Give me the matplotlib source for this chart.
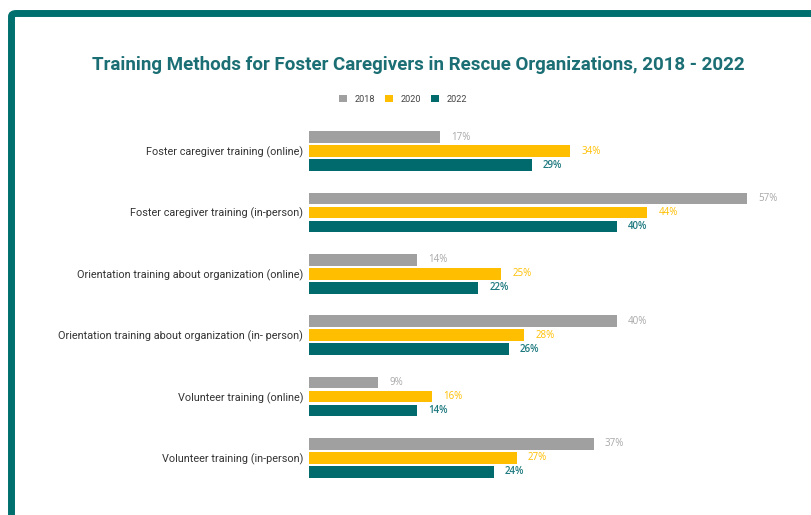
import matplotlib
matplotlib.use("Agg")
import matplotlib.pyplot as plt
import numpy as np
from matplotlib.patches import FancyBboxPatch

categories = [
    "Foster caregiver training (online)",
    "Foster caregiver training (in-person)",
    "Orientation training about organization (online)",
    "Orientation training about organization (in- person)",
    "Volunteer training (online)",
    "Volunteer training (in-person)",
]
years = ["2018", "2020", "2022"]
v2018 = [17, 57, 14, 40, 9, 37]
v2020 = [34, 44, 25, 28, 16, 27]
v2022 = [29, 40, 22, 26, 14, 24]

bar_colors = ["#A0A0A0", "#FFBF00", "#006A6C"]
label_colors = ["#A8A8A8", "#FFBF00", "#1F7A80"]
title_color = "#1B6F74"
border_color = "#00706F"

plt.rcParams['font.family'] = ['Roboto', 'DejaVu Sans']

fig = plt.figure(figsize=(8.11, 5.15), dpi=100)
fig.patch.set_facecolor("white")

# frame border
border = FancyBboxPatch((11.5 / 811, -0.05), 1.05, 1 - 13.5 / 515 + 0.05,
                        boxstyle="round,pad=0,rounding_size=0.006",
                        transform=fig.transFigure, fill=False,
                        edgecolor=border_color, linewidth=5.0, clip_on=False)
fig.patches.append(border)

ax = fig.add_axes([309 / 811, 1 - 488.7 / 515, 461.4 / 811, 368.4 / 515])
ax.set_xlim(0, 60)
ax.set_ylim(5.5, -0.5)

y = np.arange(len(categories))
off = 14 / 61.4
h = 11.5 / 61.4
series = [v2018, v2020, v2022]
for k, (vals, yr) in enumerate(zip(series, years)):
    pos = y + (k - 1) * off
    ax.barh(pos, vals, height=h, color=bar_colors[k], label=yr)
    for p, v in zip(pos, vals):
        ax.annotate(f"{v}%", (v, p), xytext=(8, 0), textcoords="offset points",
                    ha="left", va="center", fontsize=7, color=label_colors[k],
                    family=['Open Sans', 'DejaVu Sans'],
                    fontweight='semibold' if k == 2 else 'normal')

ax.set_yticks(y)
ax.set_yticklabels(categories, fontsize=7.8, color="#333333")
ax.tick_params(axis='y', length=0, pad=4.3)
ax.set_xticks([])
for s in ax.spines.values():
    s.set_visible(False)

fig.text(418 / 811, 1 - 64.5 / 515,
         "Training Methods for Foster Caregivers in Rescue Organizations, 2018 - 2022",
         ha="center", va="center", fontsize=13.5, fontweight="bold", color=title_color,
         family=['Roboto', 'DejaVu Sans'])

handles, labels = ax.get_legend_handles_labels()
fig.legend(handles, labels, loc="center", bbox_to_anchor=(403 / 811, 1 - 99 / 515),
           ncol=3, frameon=False, fontsize=6.6, handlelength=0.9, handleheight=0.9,
           handletextpad=0.8, columnspacing=1.1, labelcolor="#444444")

fig.savefig("out.png", dpi=100, facecolor="white")
